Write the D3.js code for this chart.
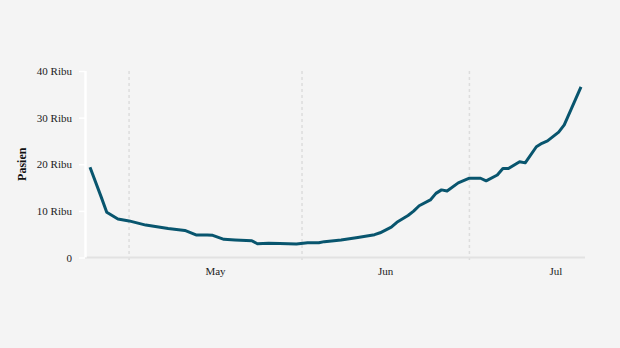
<!DOCTYPE html>
<html>
<head>
<meta charset="utf-8">
<script src="https://cdn.jsdelivr.net/npm/d3@7"></script>
<style>
  html, body { margin: 0; padding: 0; background: #f4f4f4; }
  svg { display: block; }
  text { font-family: "Liberation Serif", "Times New Roman", serif; }
</style>
</head>
<body>
<svg id="chart" width="620" height="348"></svg>
<script>
// ---- data ----
const dates = [
  "2021-04-24","2021-04-26","2021-04-27","2021-04-29","2021-05-01","2021-05-04",
  "2021-05-06","2021-05-08","2021-05-11","2021-05-13","2021-05-15","2021-05-16",
  "2021-05-18","2021-05-20","2021-05-23","2021-05-24","2021-05-26","2021-05-28",
  "2021-05-31","2021-06-02","2021-06-04","2021-06-05","2021-06-08","2021-06-11",
  "2021-06-14","2021-06-15","2021-06-17","2021-06-18","2021-06-20","2021-06-21",
  "2021-06-22","2021-06-24","2021-06-25","2021-06-26","2021-06-27","2021-06-29",
  "2021-07-01","2021-07-03","2021-07-04","2021-07-06","2021-07-07","2021-07-08",
  "2021-07-10","2021-07-11","2021-07-13","2021-07-14","2021-07-15","2021-07-17",
  "2021-07-18","2021-07-21"
];
const patients = [
  19350,13000,9700,8250,7850,6950,
  6600,6200,5800,4850,4850,4750,
  3900,3750,3600,2950,3050,3000,
  2900,3150,3150,3400,3750,4300,
  4900,5300,6500,7550,9000,9950,
  11100,12350,13750,14500,14250,16000,
  17000,17000,16450,17700,19100,19100,
  20550,20300,23750,24500,25000,26900,
  28450,36600
];
const yTicks = [0, 10000, 20000, 30000, 40000];
const yTickLabels = ["0", "10 Ribu", "20 Ribu", "30 Ribu", "40 Ribu"];
const monthLabels = ["May", "Jun", "Jul"];
const yTitle = "Pasien";

// ---- layout ----
const parse = d3.timeParse("%Y-%m-%d");
const data = dates.map((d, i) => ({ date: parse(d), value: patients[i] }));

const svg = d3.select("#chart");
const x = d3.scaleTime()
  .domain(d3.extent(data, d => d.date))
  .range([90, 581]);
const y = d3.scaleLinear().domain([0, 40000]).range([257.5, 71]);

const plotLeft = 85, plotRight = 585;

// dashed vertical gridlines at month starts
const monthStarts = d3.timeMonth.range(d3.timeMonth.ceil(x.domain()[0]), x.domain()[1]);
svg.append("g").selectAll("line")
  .data(monthStarts)
  .join("line")
  .attr("x1", d => x(d)).attr("x2", d => x(d))
  .attr("y1", y(40000)).attr("y2", y(0) + 5)
  .attr("stroke", "#dddddd")
  .attr("stroke-width", 1.5)
  .attr("stroke-dasharray", "3,3");

// baseline
svg.append("line")
  .attr("x1", plotLeft).attr("x2", plotRight)
  .attr("y1", y(0)).attr("y2", y(0))
  .attr("stroke", "#e2e2e2")
  .attr("stroke-width", 2);

// y axis
const yAxis = d3.axisLeft(y)
  .tickValues(yTicks)
  .tickFormat((d, i) => yTickLabels[i])
  .tickSize(6)
  .tickPadding(7);
const gy = svg.append("g")
  .attr("transform", `translate(${plotLeft},0)`)
  .call(yAxis);
gy.select(".domain").remove();
gy.selectAll(".tick line").attr("stroke", "#ffffff").attr("stroke-width", 1.5);
gy.selectAll(".tick text")
  .attr("fill", "#222")
  .style("font-size", "11px")
  .style("font-family", '"Liberation Serif", serif');
svg.append("line")
  .attr("x1", plotLeft + 0.5).attr("x2", plotLeft + 0.5)
  .attr("y1", y(40000)).attr("y2", y(0))
  .attr("stroke", "#ffffff")
  .attr("stroke-width", 2.5);

// month labels centred in each month
const monthsForLabels = monthStarts.map(m => {
  const next = d3.timeMonth.offset(m, 1);
  return new Date((m.getTime() + next.getTime()) / 2);
});
svg.append("g").selectAll("text")
  .data(monthsForLabels)
  .join("text")
  .attr("x", d => x(d))
  .attr("y", 274.5)
  .attr("text-anchor", "middle")
  .attr("fill", "#222")
  .style("font-size", "11px")
  .text((d, i) => monthLabels[i]);

// y title
svg.append("text")
  .attr("transform", `translate(26,${(y(0) + y(40000)) / 2}) rotate(-90)`)
  .attr("text-anchor", "middle")
  .attr("fill", "#111")
  .style("font-size", "12px")
  .style("font-weight", "bold")
  .text(yTitle);

// line
const line = d3.line().x(d => x(d.date)).y(d => y(d.value));
svg.append("path")
  .datum(data)
  .attr("d", line)
  .attr("fill", "none")
  .attr("stroke", "#08556e")
  .attr("stroke-width", 3)
  .attr("stroke-linejoin", "round");
</script>
</body>
</html>
